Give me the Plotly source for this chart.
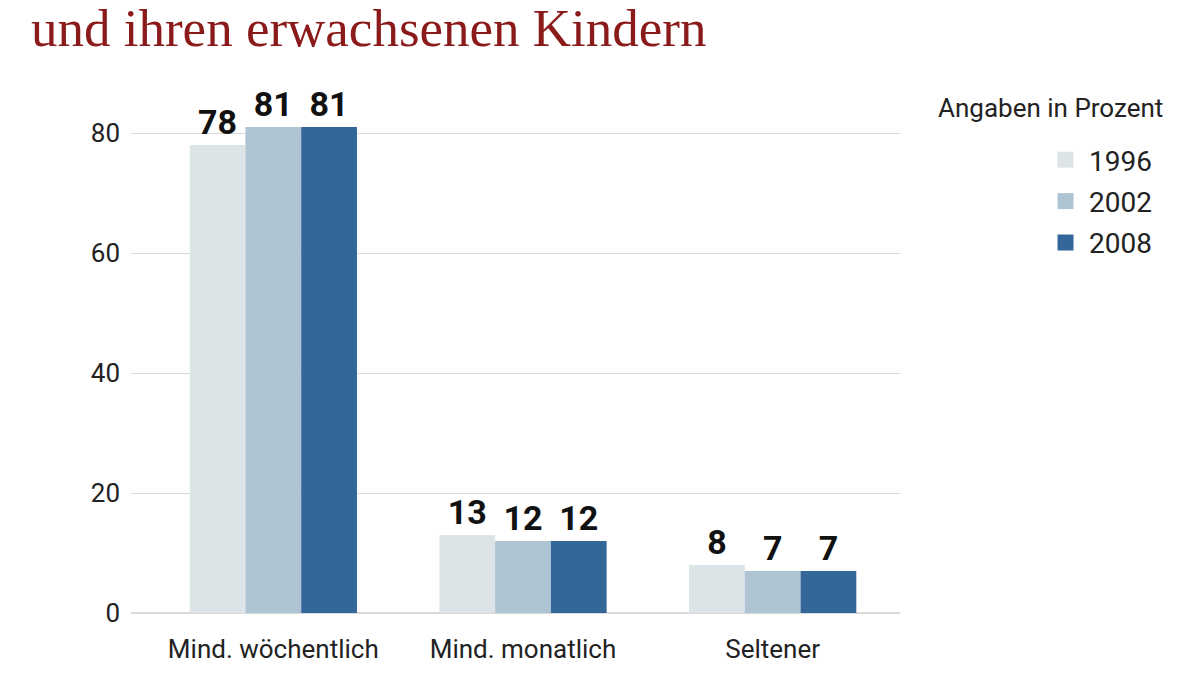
import plotly.graph_objects as go

categories = ["Mind. wöchentlich", "Mind. monatlich", "Seltener"]
years = ["1996", "2002", "2008"]
values_1996 = [78, 13, 8]
values_2002 = [81, 12, 7]
values_2008 = [81, 12, 7]
colors = ["#dde4e8", "#afc4d3", "#336699"]
y_ticks = [0, 20, 40, 60, 80]

FONT = "Liberation Sans Narrow, Arial Narrow, Roboto, sans-serif"
L, R, T, B = 123, 308, 65, 70
PW, PH = 1200 - L - R, 675 - T - B

def px_x(x):
    return (x - L) / PW

def px_y(y):
    return (675 - B - y) / PH

fig = go.Figure()
for yr, vals, col in zip(years, [values_1996, values_2002, values_2008], colors):
    fig.add_trace(go.Bar(
        x=categories, y=vals, name=yr, marker_color=col, marker_line_width=0,
        text=[str(v) for v in vals], textposition="outside",
        textfont=dict(family=FONT, size=34, color="#111"),
        texttemplate="<b>%{text}</b>", cliponaxis=False,
        showlegend=False,
    ))
# legend entries (square swatches)
for yr, col in zip(years, colors):
    fig.add_trace(go.Scatter(
        x=[None], y=[None], mode="markers", name=yr, legendgroup=yr,
        marker=dict(symbol="square", size=26, color=col),
        showlegend=True,
    ))

fig.update_layout(
    width=1200, height=675,
    paper_bgcolor="white", plot_bgcolor="white",
    barmode="group", bargap=0.33, bargroupgap=0,
    margin=dict(l=L, r=R, t=T, b=B),
    font=dict(family=FONT, size=26, color="#222"),
    xaxis=dict(range=[-0.57, 2.51], showgrid=False, showline=False, ticks="",
               tickfont=dict(size=26, color="#222"), ticklabelstandoff=18,
               automargin=False),
    yaxis=dict(range=[0, 90], tickvals=y_ticks, showgrid=True, gridcolor="#d9d9d9",
               gridwidth=1, zeroline=True, zerolinecolor="#d9d9d9", zerolinewidth=2,
               ticks="", ticklabelstandoff=10, tickfont=dict(size=26, color="#222"),
               automargin=False),
    legend=dict(x=px_x(1034), y=px_y(127), xanchor="left", yanchor="top",
                font=dict(size=28, color="#222"), tracegroupgap=2,
                itemwidth=37, bgcolor="rgba(0,0,0,0)"),
    showlegend=True,
    annotations=[
        dict(text="und ihren erwachsenen Kindern", xref="paper", yref="paper",
             x=px_x(21), y=px_y(51), xanchor="left", yanchor="bottom",
             showarrow=False, font=dict(family="Liberation Serif, Times New Roman, serif",
                                        size=53, color="#8b1a1a")),
        dict(text="Angaben in Prozent", xref="paper", yref="paper",
             x=px_x(928), y=px_y(83), xanchor="left", yanchor="top",
             showarrow=False, font=dict(family=FONT, size=26, color="#222")),
    ],
)

fig.write_html("out.html")
